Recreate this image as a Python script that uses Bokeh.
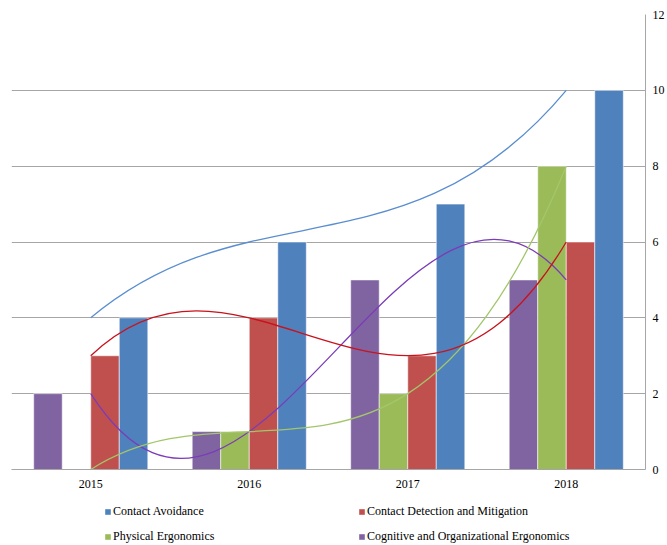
import numpy as np
from bokeh.plotting import figure
from bokeh.layouts import column
from bokeh.models import Range1d, FixedTicker, Legend, LegendItem
from bokeh.embed import file_html
from bokeh.resources import INLINE

years = ["2015", "2016", "2017", "2018"]
contact_avoidance = [4, 6, 7, 10]
contact_detection = [3, 4, 3, 6]
physical_ergonomics = [0, 1, 2, 8]
cognitive_ergonomics = [2, 1, 5, 5]
y_ticks = [0, 2, 4, 6, 8, 10, 12]

# (name, values, bar colour, trendline colour) in bar order left->right
series = [
    ("Cognitive and Organizational Ergonomics", cognitive_ergonomics, "#8064A2", "#7A3CB8"),
    ("Physical Ergonomics", physical_ergonomics, "#9BBB59", "#A3C66B"),
    ("Contact Detection and Mitigation", contact_detection, "#C0504D", "#C8121C"),
    ("Contact Avoidance", contact_avoidance, "#4F81BD", "#5A8ED0"),
]

FONT = "Liberation Serif"
centers = [i + 0.5 for i in range(len(years))]

p = figure(width=667, height=497, output_backend="svg", toolbar_location=None,
           x_range=Range1d(0, 4), y_range=Range1d(0, 12),
           y_axis_location="right", min_border_left=11, min_border_right=22,
           min_border_top=14, min_border_bottom=28)
p.outline_line_color = None
p.background_fill_color = "white"
p.xgrid.visible = False
p.ygrid.ticker = FixedTicker(ticks=y_ticks)
p.ygrid.grid_line_color = "#A6A6A6"
p.ygrid.grid_line_width = 1

bw = 0.18
for i, (name, vals, bcol, lcol) in enumerate(series):
    xs = [c + (i - 1.5) * bw for c in centers]
    p.vbar(x=xs, top=vals, bottom=0, width=bw, fill_color=bcol,
           line_color="white", line_width=0.8, line_alpha=0.7)

# cubic polynomial trendlines (order-3 fit through the four points), drawn as one bezier each
s = np.arange(len(years), dtype=float)
for name, vals, bcol, lcol in series:
    q = np.polyfit(s, np.array(vals, dtype=float), 3)
    dq = np.polyder(q)
    b0 = float(np.polyval(q, 0.0))
    b3 = float(np.polyval(q, 3.0))
    b1 = b0 + float(np.polyval(dq, 0.0))
    b2 = b3 - float(np.polyval(dq, 3.0))
    p.bezier(x0=[centers[0]], y0=[b0], x1=[centers[-1]], y1=[b3],
             cx0=[centers[1]], cy0=[b1], cx1=[centers[2]], cy1=[b2],
             line_color=lcol, line_width=1.3)

# x axis
xa = p.xaxis[0]
xa.ticker = FixedTicker(ticks=centers)
xa.major_label_overrides = {c: y for c, y in zip(centers, years)}
xa.major_tick_line_color = None
xa.minor_tick_line_color = None
xa.major_tick_out = 0
xa.major_tick_in = 0
xa.axis_line_color = "#A6A6A6"
xa.major_label_text_font = FONT
xa.major_label_text_font_size = "12px"
xa.major_label_text_color = "black"
xa.major_label_standoff = 10

# y axis (right)
ya = p.yaxis[0]
ya.ticker = FixedTicker(ticks=y_ticks)
ya.major_tick_line_color = None
ya.minor_tick_line_color = None
ya.major_tick_out = 0
ya.major_tick_in = 0
ya.axis_line_color = "#A6A6A6"
ya.major_label_text_font = FONT
ya.major_label_text_font_size = "12px"
ya.major_label_text_color = "black"
ya.major_label_standoff = 7

# legend strip below the chart (its frame is aligned with the chart's frame)
pl = figure(width=667, height=48, output_backend="svg", toolbar_location=None,
            x_range=Range1d(0, 1), y_range=Range1d(0, 1),
            x_axis_location=None, y_axis_location=None,
            min_border_left=0, min_border_right=0, min_border_top=0, min_border_bottom=0)
pl.grid.visible = False
pl.outline_line_color = None
colors = {name: bcol for name, vals, bcol, lcol in series}
legend_order = ["Contact Avoidance", "Contact Detection and Mitigation",
                "Physical Ergonomics", "Cognitive and Organizational Ergonomics"]
items = []
for n in legend_order:
    r = pl.vbar(x=[0.5], top=[0], bottom=[0], width=0, fill_color=colors[n], line_color=None)
    items.append(LegendItem(label=n, renderers=[r]))
legend = Legend(items=items, orientation="horizontal", nrows=2, location=(93, 0),
                glyph_width=7, glyph_height=7, label_standoff=2, label_width=238,
                label_height=18, spacing=7, padding=0, margin=0,
                label_text_font=FONT, label_text_font_size="12px",
                label_text_color="black", border_line_color=None,
                background_fill_alpha=0)
pl.add_layout(legend, "center")

open("out.html", "w").write(file_html(column(p, pl), INLINE))
